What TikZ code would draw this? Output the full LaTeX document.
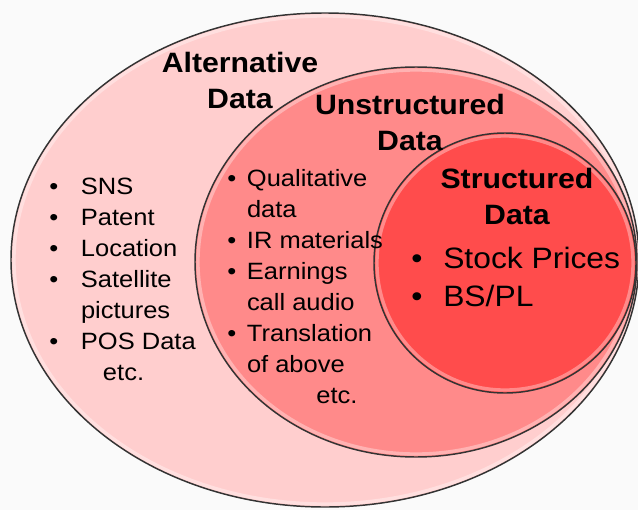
\documentclass[tikz,border=0pt]{standalone}
\usepackage{fontspec}
\setmainfont{Liberation Sans}[FakeStretch=1.08]

\definecolor{altpink}{RGB}{255,206,206}
\definecolor{unspink}{RGB}{255,138,138}
\definecolor{strred}{RGB}{255,76,76}
\definecolor{bggray}{RGB}{250,250,250}

\begin{document}
\begin{tikzpicture}[x=0.75pt,y=-0.75pt,
        set/.style={draw=black!80,line width=1.1pt},
        glow/.style={draw=white,opacity=0.35,line width=2.5pt},
        settitle/.style={font=\fontsize{21}{27}\selectfont\bfseries,anchor=base,inner sep=0pt},
        items/.style={font=\fontsize{17.7}{23.25}\selectfont,anchor=base west,inner sep=0pt},
        bigitems/.style={font=\fontsize{22.1}{28.5}\selectfont,anchor=base west,inner sep=0pt}]
                \useasboundingbox (0,0) rectangle (638,510);
                \fill[bggray] (0,0) rectangle (638,510);
                \clip (0,0) rectangle (638,510);
                % the three nested sets
                \draw[set,fill=altpink] (325,260) ellipse [x radius=314,y radius=247];
                \draw[glow] (325,260) ellipse [x radius=311,y radius=244];
                \draw[set,fill=unspink] (416,262) ellipse [x radius=221,y radius=195];
                \draw[glow] (416,262) ellipse [x radius=218,y radius=192];
                \draw[set,fill=strred] (505,263) ellipse [x radius=131,y radius=130];
                \draw[glow] (505,263) ellipse [x radius=128,y radius=127];
                % titles
                \node[settitle] (alttitle) at (240,73) {\begin{tabular}[t]{@{}c@{}}Alternative\\Data\end{tabular}};
                \node[settitle] (unstitle) at (410,114) {\begin{tabular}[t]{@{}c@{}}Unstructured\\Data\end{tabular}};
                \node[settitle] (strtitle) at (517,188) {\begin{tabular}[t]{@{}c@{}}Structured\\Data\end{tabular}};
                % contents
                \node[items] (altlist) at (49,194) {\begin{tabular}[t]{@{}p{23.8pt}@{}l@{}}
                        \textbullet & SNS\\
                        \textbullet & Patent\\
                        \textbullet & Location\\
                        \textbullet & Satellite\\
                                    & pictures\\
                        \textbullet & POS Data\\
                                    & \hspace{16.5pt}etc.
                    \end{tabular}};
                \node[items] (unslist) at (227,186) {\begin{tabular}[t]{@{}p{14.8pt}@{}l@{}}
                        \textbullet & Qualitative\\
                                    & data\\
                        \textbullet & IR materials\\
                        \textbullet & Earnings\\
                                    & call audio\\
                        \textbullet & Translation\\
                                    & of above\\
                                    & \hspace{52pt}etc.
                    \end{tabular}};
                \node[bigitems] (strlist) at (411,268) {\begin{tabular}[t]{@{}p{24pt}@{}l@{}}
                        \textbullet & Stock Prices\\
                        \textbullet & BS/PL
                    \end{tabular}};
            \end{tikzpicture}
\end{document}
